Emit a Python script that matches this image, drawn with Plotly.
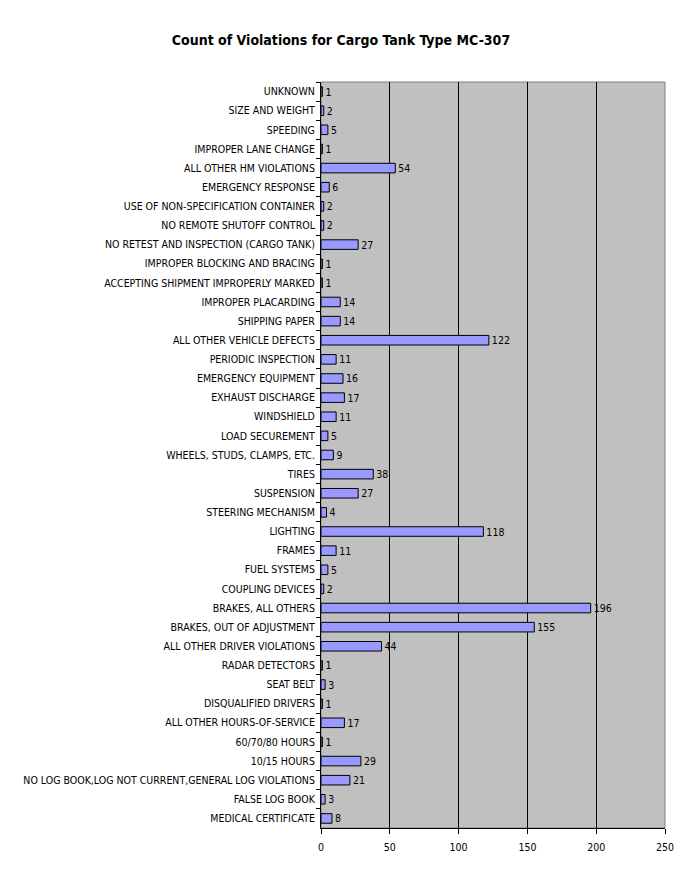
import plotly.graph_objects as go

# categories listed top to bottom as in the chart
categories = [
    "UNKNOWN", "SIZE AND WEIGHT", "SPEEDING", "IMPROPER LANE CHANGE",
    "ALL OTHER HM VIOLATIONS", "EMERGENCY RESPONSE",
    "USE OF NON-SPECIFICATION CONTAINER", "NO REMOTE SHUTOFF CONTROL",
    "NO RETEST AND INSPECTION (CARGO TANK)", "IMPROPER BLOCKING AND BRACING",
    "ACCEPTING SHIPMENT IMPROPERLY MARKED", "IMPROPER PLACARDING",
    "SHIPPING PAPER", "ALL OTHER VEHICLE DEFECTS", "PERIODIC INSPECTION",
    "EMERGENCY EQUIPMENT", "EXHAUST DISCHARGE", "WINDSHIELD",
    "LOAD SECUREMENT", "WHEELS, STUDS, CLAMPS, ETC.", "TIRES", "SUSPENSION",
    "STEERING MECHANISM", "LIGHTING", "FRAMES", "FUEL SYSTEMS",
    "COUPLING DEVICES", "BRAKES, ALL OTHERS", "BRAKES, OUT OF ADJUSTMENT",
    "ALL OTHER DRIVER VIOLATIONS", "RADAR DETECTORS", "SEAT BELT",
    "DISQUALIFIED DRIVERS", "ALL OTHER HOURS-OF-SERVICE", "60/70/80 HOURS",
    "10/15 HOURS", "NO LOG BOOK,LOG NOT CURRENT,GENERAL LOG VIOLATIONS",
    "FALSE LOG BOOK", "MEDICAL CERTIFICATE",
]
counts = [
    1, 2, 5, 1, 54, 6, 2, 2, 27, 1, 1, 14, 14, 122, 11, 16, 17, 11, 5, 9,
    38, 27, 4, 118, 11, 5, 2, 196, 155, 44, 1, 3, 1, 17, 1, 29, 21, 3, 8,
]
x_ticks = [0, 50, 100, 150, 200, 250]

font = "DejaVu Sans Condensed, Liberation Sans Narrow, Liberation Sans, sans-serif"

trace = go.Bar(
    x=counts, y=categories, orientation="h",
    marker=dict(color="#9999FF", line=dict(color="black", width=1)),
    width=0.5,
    text=[str(c) for c in counts], textposition="outside",
    constraintext="none",
    textfont=dict(size=10.5, color="black", family=font),
    cliponaxis=False,
)

layout = go.Layout(
    width=682, height=875,
    margin=dict(l=321, r=17, t=82, b=47),
    paper_bgcolor="white", plot_bgcolor="#C0C0C0",
    title=dict(text="<b>Count of Violations for Cargo Tank Type MC-307</b>",
               x=0.5, xanchor="center", y=0.954, yanchor="middle",
               font=dict(family=font, size=14, color="black")),
    font=dict(family=font, size=10, color="black"),
    showlegend=False,
    xaxis=dict(range=[0, 250], tickvals=x_ticks, showgrid=True,
               gridcolor="black", gridwidth=1, zeroline=False,
               showline=True, linecolor="black",
               ticks="outside", ticklen=5, tickcolor="black",
               ticklabelstandoff=4,
               tickfont=dict(size=10.5), automargin=False),
    yaxis=dict(autorange="reversed", type="category",
               showline=True, linecolor="black",
               ticks="outside", tickson="boundaries", ticklen=4,
               tickcolor="black", showgrid=False, automargin=False,
               ticklabelstandoff=3,
               tickfont=dict(size=10.5)),
    shapes=[dict(type="rect", xref="paper", yref="paper", x0=0, x1=1,
                 y0=0, y1=1, line=dict(color="#808080", width=1),
                 layer="below")],
)

fig = go.Figure(data=[trace], layout=layout)
fig.write_html("out.html", config={"displayModeBar": False},
               post_script="document.body.style.margin='0';")
